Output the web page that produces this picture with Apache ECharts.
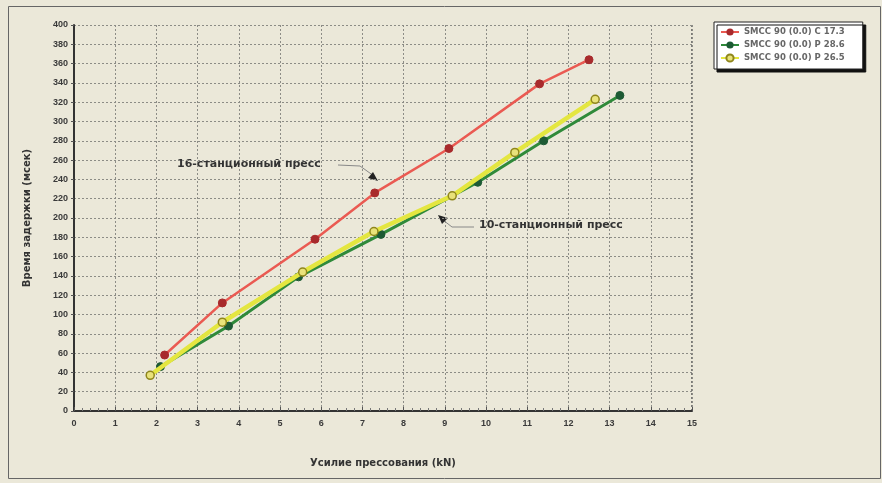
<!DOCTYPE html>
<html><head><meta charset="utf-8">
<script src="https://cdn.jsdelivr.net/npm/echarts@6/dist/echarts.min.js"></script>
<style>html,body{margin:0;padding:0;background:#ebe8d9;}#c{width:882px;height:483px;}</style>
</head><body><div id="c"></div>
<script>
const seriesNames = ['SMCC 90 (0.0) C 17.3', 'SMCC 90 (0.0) P 28.6', 'SMCC 90 (0.0) P 26.5'];
const redX = [2.2, 3.6, 5.85, 7.3, 9.1, 11.3, 12.5];
const redY = [58, 112, 178, 226, 272, 339, 364];
const greenX = [2.1, 3.75, 5.45, 7.45, 9.8, 11.4, 13.25];
const greenY = [46, 88, 139, 183, 237, 280, 327];
const yellowX = [1.85, 3.6, 5.55, 7.28, 9.18, 10.7, 12.65];
const yellowY = [37, 92, 144, 186, 223, 268, 323];
const xTicks = {min: 0, max: 15, interval: 1};
const yTicks = {min: 0, max: 400, interval: 20};
const xTitle = 'Усилие прессования (kN)';
const yTitle = 'Время задержки (мсек)';
const note16 = '16-станционный пресс';
const note10 = '10-станционный пресс';

const pairs = (xs, ys) => xs.map((x, i) => [x, ys[i]]);
const chart = echarts.init(document.getElementById('c'));
const lbl = {color: '#3a3a3a', fontSize: 9, fontWeight: 'bold', fontFamily: 'Liberation Sans'};
const ttl = {fontSize: 10, fontWeight: 'bold', color: '#333', fontFamily: 'DejaVu Sans'};
chart.setOption({
  backgroundColor: '#ebe8d9',
  animation: false,
  grid: {left: 74, right: 190, top: 25, bottom: 72},
  legend: {
    orient: 'vertical', left: 714, top: 22, itemGap: 3, itemWidth: 18, itemHeight: 9,
    padding: [5, 18, 6, 6],
    backgroundColor: '#ffffff', borderColor: '#222', borderWidth: 1,
    shadowColor: '#111', shadowOffsetX: 3, shadowOffsetY: 3, shadowBlur: 0,
    textStyle: {fontSize: 8.5, fontWeight: 'bold', color: '#666', fontFamily: 'DejaVu Sans', lineHeight: 10},
    data: seriesNames
  },
  xAxis: {
    type: 'value', min: xTicks.min, max: xTicks.max, interval: xTicks.interval,
    name: xTitle, nameLocation: 'middle', nameGap: 47, nameTextStyle: ttl,
    axisLine: {lineStyle: {color: '#333', width: 2}},
    axisTick: {show: true, length: 4, inside: true, lineStyle: {color: '#555'}},
    minorTick: {show: true, splitNumber: 5, length: 3, lineStyle: {color: '#777'}},
    axisLabel: Object.assign({margin: 8}, lbl),
    splitLine: {show: true, lineStyle: {color: '#8c8c86', type: [2, 2], width: 1}}
  },
  yAxis: {
    type: 'value', min: yTicks.min, max: yTicks.max, interval: yTicks.interval,
    name: yTitle, nameLocation: 'middle', nameGap: 42, nameTextStyle: ttl,
    axisLine: {show: true, lineStyle: {color: '#333', width: 2}},
    axisTick: {show: true, length: 3, lineStyle: {color: '#555'}},
    axisLabel: Object.assign({margin: 6}, lbl),
    splitLine: {show: true, lineStyle: {color: '#8c8c86', type: [2, 2], width: 1}}
  },
  series: [
    {name: seriesNames[1], type: 'line', data: pairs(greenX, greenY), z: 3,
     lineStyle: {color: '#2f8a3a', width: 3}, itemStyle: {color: '#1d5a34', borderColor: '#1d5a34'},
     symbol: 'circle', symbolSize: 8},
    {name: seriesNames[2], type: 'line', data: pairs(yellowX, yellowY), z: 4,
     lineStyle: {color: '#e4e640', width: 4.5}, itemStyle: {color: '#e9e27a', borderColor: '#8f861c', borderWidth: 1.5},
     symbol: 'circle', symbolSize: 8},
    {name: seriesNames[0], type: 'line', data: pairs(redX, redY), z: 5,
     lineStyle: {color: '#ea5a52', width: 2.5}, itemStyle: {color: '#a82a2c', borderColor: '#a82a2c'},
     symbol: 'circle', symbolSize: 8}
  ],
  graphic: [
    {type: 'rect', shape: {x: 8.5, y: 6.5, width: 872, height: 472}, style: {fill: 'none', stroke: '#666', lineWidth: 1}, z: -1, silent: true},
    {type: 'line', shape: {x1: 692, y1: 25, x2: 692, y2: 410}, style: {stroke: '#555', lineWidth: 1.5, lineDash: [2, 2]}},
    {type: 'text', left: 177, top: 159, style: {text: note16, fontSize: 11, fontWeight: 'bold', fill: '#333', fontFamily: 'DejaVu Sans'}},
    {type: 'polyline', shape: {points: [[338, 165], [360, 166], [374, 176]]}, style: {stroke: '#888', lineWidth: 1, fill: 'none'}},
    {type: 'polygon', shape: {points: [[378, 181], [368, 178], [373, 172]]}, style: {fill: '#222'}},
    {type: 'text', left: 479, top: 220, style: {text: note10, fontSize: 11, fontWeight: 'bold', fill: '#333', fontFamily: 'DejaVu Sans'}},
    {type: 'polyline', shape: {points: [[474, 227], [452, 227], [443, 220]]}, style: {stroke: '#888', lineWidth: 1, fill: 'none'}},
    {type: 'polygon', shape: {points: [[438, 215], [448, 218], [442, 224]]}, style: {fill: '#222'}}
  ]
});
</script></body></html>
